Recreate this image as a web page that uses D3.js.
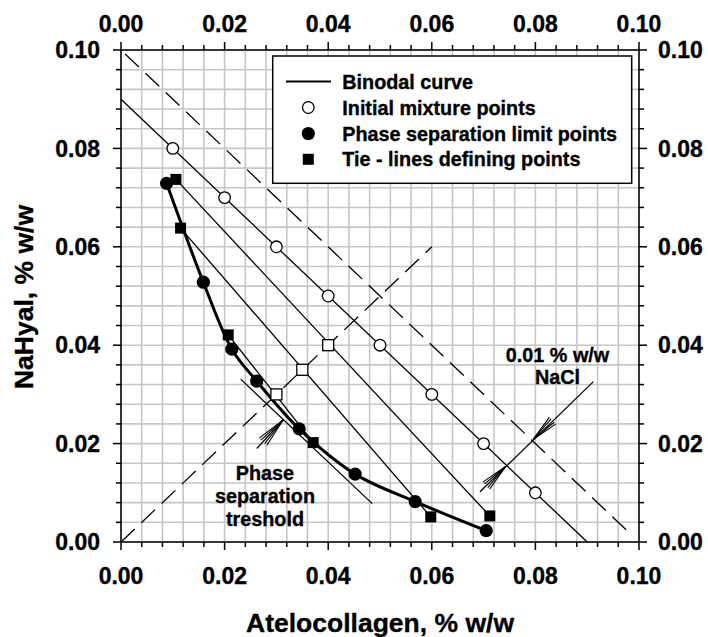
<!DOCTYPE html>
<html>
<head>
<meta charset="utf-8">
<script src="https://cdn.jsdelivr.net/npm/d3@7/dist/d3.min.js"></script>
<style>
  html, body { margin: 0; padding: 0; background: #fff; }
  svg { display: block; font-family: "Liberation Sans", Arial, sans-serif; font-weight: bold; }
  svg text { stroke: #000; stroke-width: 0.35px; }
</style>
</head>
<body>
<svg id="chart" width="708" height="637"></svg>
<script>
// Initial mixture points (open circles), all on the 0.09 % w/w total-polymer line
const initialX = [0.01, 0.02, 0.03, 0.04, 0.05, 0.06, 0.07, 0.08];
const initialY = [0.08, 0.07, 0.06, 0.05, 0.04, 0.03, 0.02, 0.01];

// Phase separation limit points (filled circles), joined by the binodal curve
const limitX = [0.0088, 0.0159, 0.0214, 0.0262, 0.0344, 0.0452, 0.0568, 0.0705];
const limitY = [0.0729, 0.0528, 0.0392, 0.0327, 0.0230, 0.0138, 0.0082, 0.0023];

// Tie-lines: upper and lower defining points (filled squares) and mixture point on the diagonal (open squares)
const tieUpperX = [0.0106, 0.0115, 0.0207];
const tieUpperY = [0.0737, 0.0638, 0.0421];
const tieLowerX = [0.0712, 0.0598, 0.0371];
const tieLowerY = [0.0053, 0.0051, 0.0202];
const tieMidX = [0.040, 0.035, 0.030];
const tieMidY = [0.040, 0.035, 0.030];

// Phase separation threshold line (tangent to the binodal)
const thresholdX = [0.0231, 0.0485];
const thresholdY = [0.0331, 0.0078];

// Tick values
const majorTicks = [0.00, 0.02, 0.04, 0.06, 0.08, 0.10];
const minorTicks = d3.range(0, 26).map(i => +(i * 0.004).toFixed(3));

const legendLabels = ["Binodal curve", "Initial mixture points", "Phase separation limit points", "Tie - lines defining points"];

const W = 708, H = 637;
const margin = { left: 121, top: 50, right: 69, bottom: 95 };
const pw = W - margin.left - margin.right;   // 518
const ph = H - margin.top - margin.bottom;   // 492

const svg = d3.select("#chart");
const g = svg.append("g").attr("transform", `translate(${margin.left},${margin.top})`);

const x = d3.scaleLinear().domain([0, 0.1]).range([0, pw]);
const y = d3.scaleLinear().domain([0, 0.1]).range([ph, 0]);

// Grid
const grid = g.append("g").attr("stroke", "#c6c6c6").attr("stroke-width", 1.6);
minorTicks.forEach(t => {
  grid.append("line").attr("x1", x(t)).attr("x2", x(t)).attr("y1", 0).attr("y2", ph);
  grid.append("line").attr("y1", y(t)).attr("y2", y(t)).attr("x1", 0).attr("x2", pw);
});

const lineGen = d3.line().x(d => x(d[0])).y(d => y(d[1]));

// Dashed guide lines: 0.1 % w/w total line and the diagonal
g.append("path").attr("d", lineGen([[0.0008, 0.0992], [0.0988, 0.0012]]))
  .attr("fill", "none").attr("stroke", "#000").attr("stroke-width", 1.3).attr("stroke-dasharray", "19,9");
g.append("path").attr("d", lineGen([[0, 0], [0.06, 0.06]]))
  .attr("fill", "none").attr("stroke", "#000").attr("stroke-width", 1.3).attr("stroke-dasharray", "19,9");

// 0.09 % w/w total line through the initial mixtures
g.append("path").attr("d", lineGen([[0, 0.09], [0.09, 0]]))
  .attr("fill", "none").attr("stroke", "#000").attr("stroke-width", 1.3);

// Tie-lines
tieUpperX.forEach((_, i) => {
  g.append("path").attr("d", lineGen([[tieUpperX[i], tieUpperY[i]], [tieLowerX[i], tieLowerY[i]]]))
    .attr("fill", "none").attr("stroke", "#000").attr("stroke-width", 1.3);
});

// Threshold line
g.append("path").attr("d", lineGen(thresholdX.map((v, i) => [v, thresholdY[i]])))
  .attr("fill", "none").attr("stroke", "#000").attr("stroke-width", 1.3);

// Binodal curve
g.append("path")
  .attr("d", d3.line().curve(d3.curveCatmullRom.alpha(0.5)).x(d => x(d[0])).y(d => y(d[1]))(limitX.map((v, i) => [v, limitY[i]])))
  .attr("fill", "none").attr("stroke", "#000").attr("stroke-width", 3);

// Markers
const sq = 11;
initialX.forEach((v, i) => {
  g.append("circle").attr("cx", x(v)).attr("cy", y(initialY[i])).attr("r", 5.8)
    .attr("fill", "#fff").attr("stroke", "#000").attr("stroke-width", 1.3);
});
tieMidX.forEach((v, i) => {
  g.append("rect").attr("x", x(v) - sq / 2).attr("y", y(tieMidY[i]) - sq / 2).attr("width", sq).attr("height", sq)
    .attr("fill", "#fff").attr("stroke", "#000").attr("stroke-width", 1.3);
});
limitX.forEach((v, i) => {
  g.append("circle").attr("cx", x(v)).attr("cy", y(limitY[i])).attr("r", 6.6).attr("fill", "#000");
});
tieUpperX.concat(tieLowerX).forEach((v, i) => {
  const yy = tieUpperY.concat(tieLowerY)[i];
  g.append("rect").attr("x", x(v) - sq / 2).attr("y", y(yy) - sq / 2).attr("width", sq).attr("height", sq).attr("fill", "#000");
});

// Fan-style arrowheads
function arrowHead(tip, back, len, spreads) {
  const tx = x(tip[0]), ty = y(tip[1]);
  const bx = x(back[0]), by = y(back[1]);
  const a = Math.atan2(by - ty, bx - tx);
  spreads.forEach(s => {
    const ang = a + s * Math.PI / 180;
    g.append("line").attr("x1", tx).attr("y1", ty)
      .attr("x2", tx + len * Math.cos(ang)).attr("y2", ty + len * Math.sin(ang))
      .attr("stroke", "#000").attr("stroke-width", 1.1);
  });
}
const fan = [-10, -5, 5, 10];

// Threshold arrow
const thrTail = [0.0262, 0.0190], thrTip = [0.0313, 0.0248];
g.append("path").attr("d", lineGen([thrTail, thrTip])).attr("stroke", "#000").attr("stroke-width", 1.2);
arrowHead(thrTip, thrTail, 30, fan);

// NaCl dimension arrow between the 0.09 and 0.10 lines
const naclStart = [0.0693, 0.0102], naclEnd = [0.0912, 0.0326];
const naclTipUpper = [0.0796, 0.0209], naclTipLower = [0.0743, 0.0154];
g.append("path").attr("d", lineGen([naclStart, naclEnd])).attr("stroke", "#000").attr("stroke-width", 1.3);
arrowHead(naclTipUpper, naclEnd, 27, fan);
arrowHead(naclTipLower, naclStart, 28, fan);

// Annotation texts
const ann = g.append("g").attr("font-size", "19.8px").attr("text-anchor", "middle").attr("fill", "#000");
[["Phase", 479.5], ["separation", 502.5], ["treshold", 525.5]].forEach(([t, yy]) => {
  ann.append("text").attr("x", 265 - margin.left).attr("y", yy - margin.top).text(t);
});
ann.append("text").attr("x", 557.5 - margin.left).attr("y", 362 - margin.top).text("0.01 % w/w");
ann.append("text").attr("x", 557.5 - margin.left).attr("y", 383.5 - margin.top).text("NaCl");

// Axes frame and ticks
const axes = g.append("g").attr("stroke", "#000").attr("stroke-width", 1.5);
axes.append("rect").attr("x", 0).attr("y", 0).attr("width", pw).attr("height", ph).attr("fill", "none");
minorTicks.forEach(t => {
  const isMajor = Math.abs(t / 0.02 - Math.round(t / 0.02)) < 1e-6;
  const L = isMajor ? 8 : 5;
  axes.append("line").attr("x1", x(t)).attr("x2", x(t)).attr("y1", ph).attr("y2", ph + L);
  axes.append("line").attr("x1", x(t)).attr("x2", x(t)).attr("y1", 0).attr("y2", -L);
  axes.append("line").attr("y1", y(t)).attr("y2", y(t)).attr("x1", 0).attr("x2", -L);
  axes.append("line").attr("y1", y(t)).attr("y2", y(t)).attr("x1", pw).attr("x2", pw + L);
});

// Tick labels
const fmt = d3.format(".2f");
const tl = g.append("g").attr("font-size", "23px").attr("fill", "#000");
majorTicks.forEach(t => {
  tl.append("text").attr("x", x(t)).attr("y", ph + 42).attr("text-anchor", "middle").text(fmt(t));
  tl.append("text").attr("x", x(t)).attr("y", -18).attr("text-anchor", "middle").text(fmt(t));
  tl.append("text").attr("x", -21).attr("y", y(t)).attr("dy", "0.36em").attr("text-anchor", "end").text(fmt(t));
  tl.append("text").attr("x", pw + 19).attr("y", y(t)).attr("dy", "0.36em").attr("text-anchor", "start").text(fmt(t));
});

// Axis titles
svg.append("text").attr("x", margin.left + pw / 2).attr("y", 632).attr("text-anchor", "middle")
  .attr("font-size", "26.5px").text("Atelocollagen, % w/w");
svg.append("text").attr("transform", `translate(33,${margin.top + ph / 2 + 1}) rotate(-90)`).attr("text-anchor", "middle")
  .attr("font-size", "26.5px").text("NaHyal, % w/w");

// Legend
const lg = svg.append("g");
lg.append("rect").attr("x", 272.7).attr("y", 56).attr("width", 359).attr("height", 127.3)
  .attr("fill", "#fff").attr("stroke", "#000").attr("stroke-width", 1.5);
const rowY = [81.5, 107.5, 133.5, 159.3];
const symX = 308.3;
lg.append("line").attr("x1", 286).attr("x2", 331).attr("y1", rowY[0]).attr("y2", rowY[0]).attr("stroke", "#000").attr("stroke-width", 2.2);
lg.append("circle").attr("cx", symX).attr("cy", rowY[1]).attr("r", 5.8).attr("fill", "#fff").attr("stroke", "#000").attr("stroke-width", 1.3);
lg.append("circle").attr("cx", symX).attr("cy", rowY[2]).attr("r", 6.6).attr("fill", "#000");
lg.append("rect").attr("x", symX - sq / 2).attr("y", rowY[3] - sq / 2).attr("width", sq).attr("height", sq).attr("fill", "#000");
legendLabels.forEach((t, i) => {
  lg.append("text").attr("x", 342.3).attr("y", rowY[i]).attr("dy", "0.36em").attr("font-size", "19.8px").text(t);
});
</script>
</body>
</html>
